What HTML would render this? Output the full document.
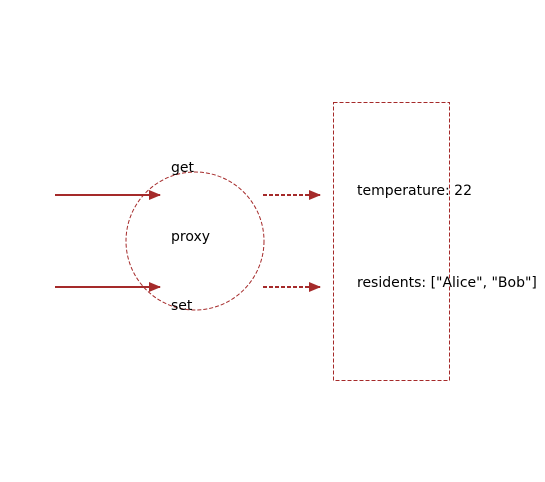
<!DOCTYPE html>
<html><head><meta charset="utf-8"><style>html,body{margin:0;padding:0;background:#fff}svg{display:block}text{font-family:"DejaVu Sans","Liberation Sans",sans-serif;font-size:14px;fill:#000}</style></head>
<body>
<svg width="545" height="482" viewBox="0 0 545 482">
<defs><marker id="ah" markerWidth="12" markerHeight="10" refX="11" refY="5" orient="auto" markerUnits="userSpaceOnUse"><path d="M0,0 L12,5 L0,10 Z" fill="#a52a2a"/></marker></defs>
<circle cx="195" cy="241" r="69" fill="none" stroke="#a52a2a" stroke-width="1" stroke-dasharray="4,2"/>
<rect x="333.5" y="102.5" width="116" height="278" fill="none" stroke="#a52a2a" stroke-width="1" stroke-dasharray="4,2"/>
<line x1="55" y1="195" x2="160" y2="195" stroke="#a52a2a" stroke-width="2" marker-end="url(#ah)"/>
<line x1="55" y1="287" x2="160" y2="287" stroke="#a52a2a" stroke-width="2" marker-end="url(#ah)"/>
<line x1="263" y1="195" x2="320" y2="195" stroke="#a52a2a" stroke-width="2" stroke-dasharray="4,2" marker-end="url(#ah)"/>
<line x1="263" y1="287" x2="320" y2="287" stroke="#a52a2a" stroke-width="2" stroke-dasharray="4,2" marker-end="url(#ah)"/>
<text x="171" y="172">get</text>
<text x="171" y="241">proxy</text>
<text x="171" y="310">set</text>
<text x="357" y="195">temperature: 22</text>
<text x="357" y="287">residents: ["Alice", "Bob"]</text>
</svg>
</body></html>
